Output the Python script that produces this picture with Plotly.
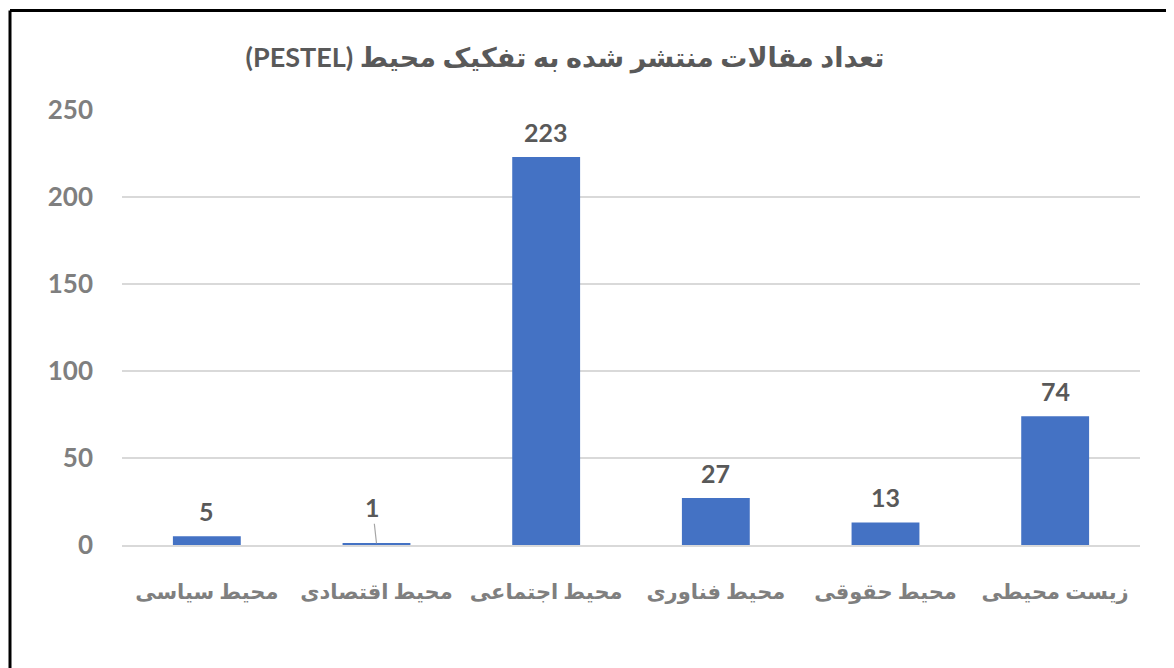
import plotly.graph_objects as go

# داده‌ها
categories = ["محیط سیاسی", "محیط اقتصادی", "محیط اجتماعی", "محیط فناوری", "محیط حقوقی", "زیست محیطی"]
counts = [5, 1, 223, 27, 13, 74]
y_ticks = [0, 50, 100, 150, 200, 250]

title_text = "\u202bتعداد مقالات منتشر شده به تفکیک محیط (PESTEL)\u202c"

# صفحه ۸ پیکسل حاشیه دارد، پس شکل کمی کوچک‌تر است
W, H = 1166, 660
ml, mr, mt, mb = 114, 34, 102, 123
pw = W - ml - mr
ph = H - mt - mb

font_family = "Lato, DejaVu Sans, sans-serif"

fig = go.Figure()
fig.add_trace(go.Bar(
    x=categories,
    y=counts,
    marker=dict(color="#4472c4", line=dict(width=0)),
    showlegend=False,
    hoverinfo="x+y",
))

# برچسب مقادیر
for i, (cat, val) in enumerate(zip(categories, counts)):
    if i == 1:
        # برچسب جابه‌جا شده با خط راهنما
        fig.add_annotation(x=cat, y=val, text=str(val), showarrow=True,
                           arrowhead=0, arrowwidth=1.2, arrowcolor="#a6a6a6",
                           ax=-4, ay=-36, standoff=0,
                           font=dict(family=font_family, size=25, color="#595959", weight="bold"))
    else:
        fig.add_annotation(x=cat, y=val, text=str(val), showarrow=False,
                           yanchor="middle", yshift=25,
                           font=dict(family=font_family, size=25, color="#595959", weight="bold"))


def px_x(p):
    return (p - ml) / pw


def px_y(p):
    return (H - mb - p) / ph


# کادر دور نمودار (فقط بالا و چپ دیده می‌شود)
border = dict(color="black", width=3)
fig.add_shape(type="line", xref="paper", yref="paper",
              x0=px_x(2), x1=px_x(W + 5), y0=px_y(2.5), y1=px_y(2.5), line=border)
fig.add_shape(type="line", xref="paper", yref="paper",
              x0=px_x(2), x1=px_x(2), y0=px_y(2.5), y1=px_y(H + 5), line=border)

fig.update_layout(
    width=W,
    height=H,
    margin=dict(l=ml, r=mr, t=mt, b=mb),
    paper_bgcolor="white",
    plot_bgcolor="white",
    bargap=0.6,
    title=dict(
        text=title_text,
        x=557 / W,
        xanchor="center",
        y=1 - 50 / H,
        yanchor="middle",
        font=dict(family=font_family, size=27, color="#595959", weight="bold"),
    ),
    font=dict(family=font_family),
)

fig.update_yaxes(
    range=[0, 250],
    tickvals=y_ticks,
    showgrid=True,
    gridcolor="#d9d9d9",
    gridwidth=1.5,
    zeroline=False,
    showline=False,
    ticks="",
    ticklabelstandoff=28,
    tickfont=dict(family=font_family, size=26, color="#7f7f7f", weight="bold"),
)

fig.update_xaxes(
    showline=True,
    linecolor="#d9d9d9",
    linewidth=1.5,
    ticks="",
    tickangle=0,
    ticklabelstandoff=27,
    tickfont=dict(family=font_family, size=21, color="#7f7f7f", weight="bold"),
)

fig.write_html("out.html")
